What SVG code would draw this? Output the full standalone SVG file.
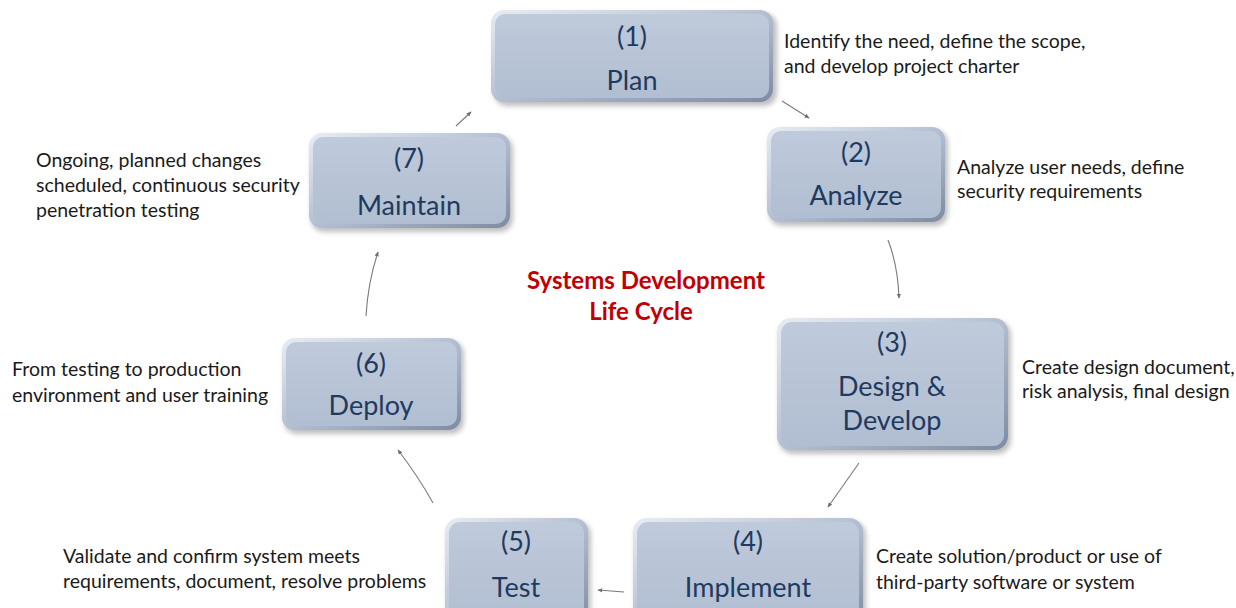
<svg xmlns="http://www.w3.org/2000/svg" width="1236" height="608" viewBox="0 0 1236 608">
<defs>
  <linearGradient id="bevel" x1="0" y1="0" x2="1" y2="1">
    <stop offset="0" stop-color="#e8edf4"/>
    <stop offset="0.45" stop-color="#b9c4d6"/>
    <stop offset="1" stop-color="#7d8ba2"/>
  </linearGradient>
  <linearGradient id="face" x1="0" y1="0" x2="0" y2="1">
    <stop offset="0" stop-color="#bfcadb"/>
    <stop offset="1" stop-color="#b1bed1"/>
  </linearGradient>
  <filter id="shadow" x="-10%" y="-10%" width="130%" height="140%">
    <feGaussianBlur stdDeviation="2.5"/>
  </filter>
  <marker id="arr" viewBox="0 0 10 10" refX="8" refY="5" markerWidth="5" markerHeight="5" orient="auto">
    <path d="M0,1 L9,5 L0,9 z" fill="#6f6f6f"/>
  </marker>
</defs>
<style>
  .shadow { fill: #8c8c8c; opacity: 0.55; filter: url(#shadow); }
  .bevel { fill: url(#bevel); }
  .face { fill: url(#face); }
  .lbl { font-family: Lato, "Liberation Sans", sans-serif; font-size: 27px; fill: #1f3a5f; text-anchor: middle; }
  .desc { font-family: Lato, "Liberation Sans", sans-serif; font-size: 19.5px; fill: #1a1a1a; }
  .title { font-family: Lato, "Liberation Sans", sans-serif; font-size: 24px; font-weight: bold; fill: #c00000; text-anchor: middle; }
  .conn { fill: none; stroke: #7a7a7a; stroke-width: 1.1; marker-end: url(#arr); }
</style>
<rect width="1236" height="608" fill="#ffffff"/>

<g id="connectors">
  <path class="conn" d="M782,101 L809,118"/>
  <path class="conn" d="M888,240 Q898,266 899,298"/>
  <path class="conn" d="M859,463 L828,507"/>
  <path class="conn" d="M624,592 L598,590"/>
  <path class="conn" d="M433,503 Q418,476 398,450"/>
  <path class="conn" d="M366,316 Q368,282 378,252"/>
  <path class="conn" d="M456,126 L471,112"/>
</g>

<g id="node1">
  <rect class="shadow" x="494" y="13" width="283" height="93" rx="13"/>
  <rect class="bevel" x="491" y="10" width="282" height="92" rx="13"/>
  <rect class="face" x="495" y="14" width="274" height="84" rx="10"/>
  <text class="lbl" x="632" y="46">(1)</text>
  <text class="lbl" x="632" y="90">Plan</text>
</g>
<g id="node2">
  <rect class="shadow" x="769" y="130" width="179" height="96" rx="13"/>
  <rect class="bevel" x="767" y="127" width="178" height="95" rx="13"/>
  <rect class="face" x="771" y="131" width="170" height="87" rx="10"/>
  <text class="lbl" x="856" y="162">(2)</text>
  <text class="lbl" x="856" y="205">Analyze</text>
</g>
<g id="node3">
  <rect class="shadow" x="779" y="321" width="232" height="133" rx="14"/>
  <rect class="bevel" x="777" y="318" width="231" height="132" rx="14"/>
  <rect class="face" x="781" y="322" width="223" height="124" rx="11"/>
  <text class="lbl" x="892" y="352">(3)</text>
  <text class="lbl" x="892" y="396">Design &amp;</text>
  <text class="lbl" x="892" y="430">Develop</text>
</g>
<g id="node4">
  <rect class="shadow" x="635" y="521" width="231" height="112" rx="14"/>
  <rect class="bevel" x="633" y="518" width="230" height="110" rx="14"/>
  <rect class="face" x="637" y="522" width="222" height="102" rx="11"/>
  <text class="lbl" x="748" y="551">(4)</text>
  <text class="lbl" x="748" y="597">Implement</text>
</g>
<g id="node5">
  <rect class="shadow" x="447" y="521" width="144" height="112" rx="14"/>
  <rect class="bevel" x="445" y="518" width="143" height="110" rx="14"/>
  <rect class="face" x="449" y="522" width="135" height="102" rx="11"/>
  <text class="lbl" x="516" y="551">(5)</text>
  <text class="lbl" x="516" y="597">Test</text>
</g>
<g id="node6">
  <rect class="shadow" x="284" y="341" width="180" height="93" rx="13"/>
  <rect class="bevel" x="282" y="338" width="179" height="92" rx="13"/>
  <rect class="face" x="286" y="342" width="171" height="84" rx="10"/>
  <text class="lbl" x="371" y="373">(6)</text>
  <text class="lbl" x="371" y="415">Deploy</text>
</g>
<g id="node7">
  <rect class="shadow" x="311" y="136" width="202" height="96" rx="13"/>
  <rect class="bevel" x="309" y="133" width="201" height="95" rx="13"/>
  <rect class="face" x="313" y="137" width="193" height="87" rx="10"/>
  <text class="lbl" x="409" y="168">(7)</text>
  <text class="lbl" x="409" y="215">Maintain</text>
</g>

<g id="title">
  <text class="title" x="646" y="289">Systems Development</text>
  <text class="title" x="641" y="320">Life Cycle</text>
</g>

<g id="descriptions">
  <text class="desc" x="784" y="48">Identify the need, define the scope,</text>
  <text class="desc" x="784" y="73">and develop project charter</text>
  <text class="desc" x="957" y="174">Analyze user needs, define</text>
  <text class="desc" x="957" y="198">security requirements</text>
  <text class="desc" x="1022" y="374">Create design document,</text>
  <text class="desc" x="1022" y="398">risk analysis, final design</text>
  <text class="desc" x="876" y="563">Create solution/product or use of</text>
  <text class="desc" x="876" y="589">third-party software or system</text>
  <text class="desc" x="63" y="563">Validate and confirm system meets</text>
  <text class="desc" x="63" y="588">requirements, document, resolve problems</text>
  <text class="desc" x="12" y="376">From testing to production</text>
  <text class="desc" x="12" y="402">environment and user training</text>
  <text class="desc" x="36" y="167">Ongoing, planned changes</text>
  <text class="desc" x="36" y="192">scheduled, continuous security</text>
  <text class="desc" x="36" y="217">penetration testing</text>
</g>
</svg>
